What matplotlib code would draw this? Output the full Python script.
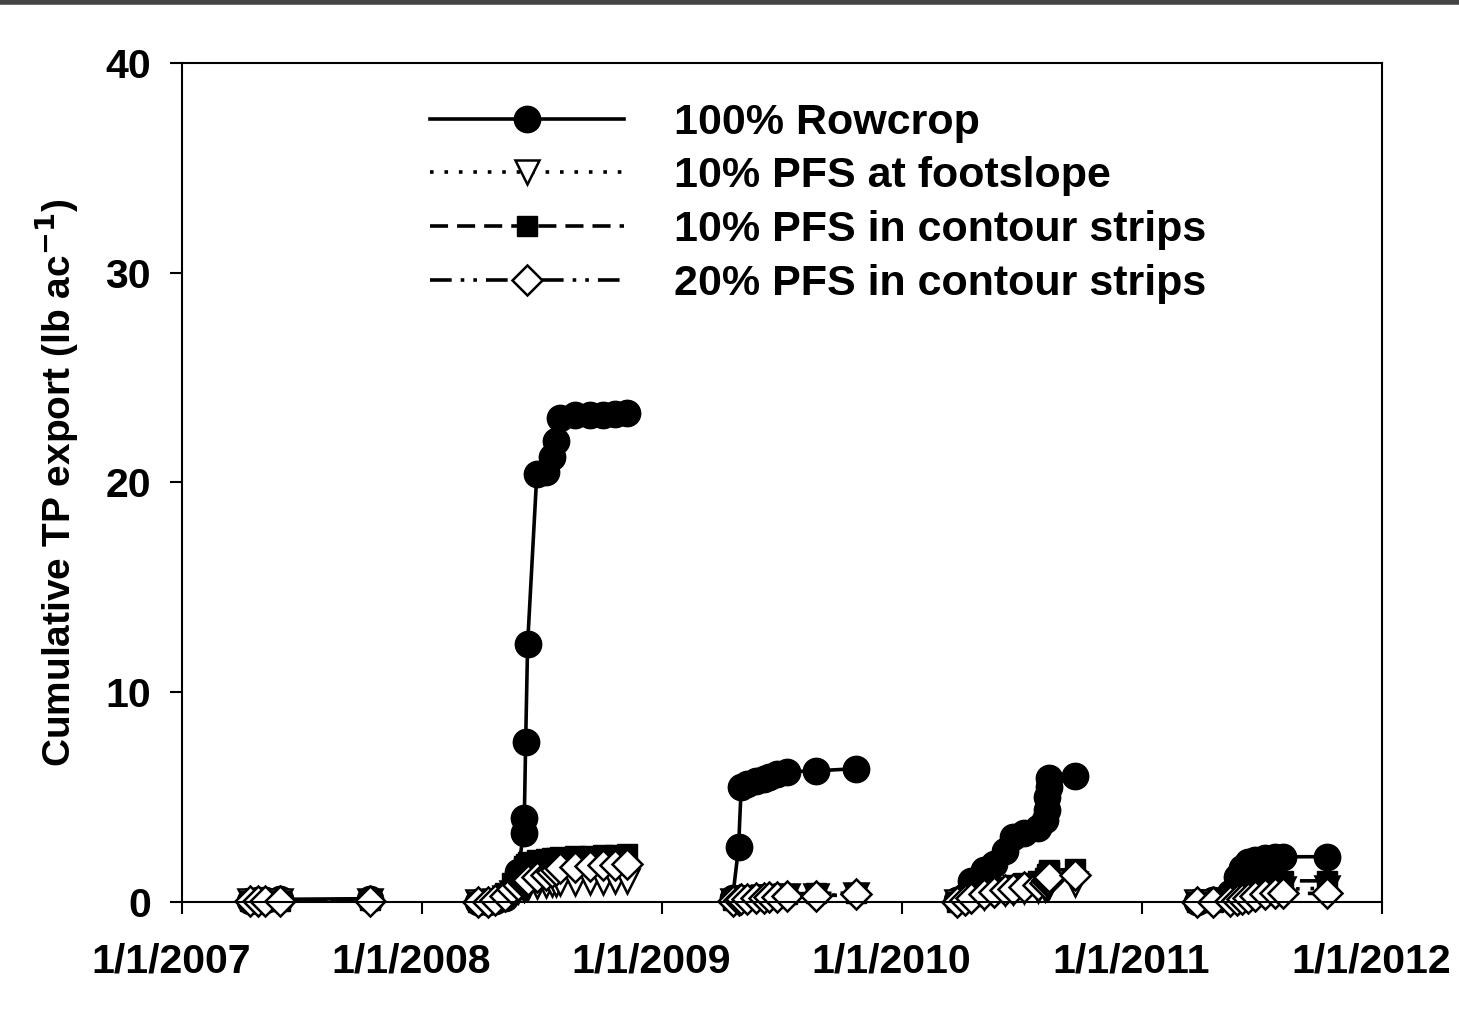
import matplotlib
matplotlib.use("Agg")
import matplotlib.pyplot as plt
import matplotlib.transforms as mtrans
from matplotlib.lines import Line2D
import numpy as np
import pandas as pd

plt.rcParams['font.family'] = ['Liberation Sans', 'DejaVu Sans']
plt.rcParams['font.weight'] = 'bold'

# event dates (runoff events), one season per year
dates = [
    "2007-04-14", "2007-04-26", "2007-05-08", "2007-05-30", "2007-10-14",
    "2008-03-26", "2008-04-10", "2008-04-22", "2008-05-06", "2008-05-17",
    "2008-05-26", "2008-06-04", "2008-06-05", "2008-06-07", "2008-06-10",
    "2008-06-24", "2008-07-08", "2008-07-17", "2008-07-23", "2008-07-29",
    "2008-08-21", "2008-09-13", "2008-10-03", "2008-10-21", "2008-11-08",
    "2009-04-18", "2009-04-27", "2009-05-01", "2009-05-10", "2009-05-23",
    "2009-06-04", "2009-06-13", "2009-06-25", "2009-07-09", "2009-08-23",
    "2009-10-23",
    "2010-03-26", "2010-04-06", "2010-04-16", "2010-05-06", "2010-05-21",
    "2010-06-06", "2010-06-18", "2010-07-06", "2010-07-26", "2010-08-06",
    "2010-08-09", "2010-08-10", "2010-08-12", "2010-08-13", "2010-09-21",
    "2011-03-25", "2011-04-19", "2011-05-15", "2011-05-25", "2011-06-02",
    "2011-06-11", "2011-06-22", "2011-07-07", "2011-07-22", "2011-08-03",
    "2011-10-09",
]

rowcrop = [
    0.05, 0.08, 0.10, 0.12, 0.15,
    0.0, 0.0, 0.05, 0.2, 0.6, 1.4, 3.3, 4.0, 7.6, 12.3,
    20.4, 20.5, 21.2, 22.0, 23.1, 23.2, 23.2, 23.2, 23.25, 23.3,
    0.2, 2.6, 5.5, 5.6, 5.75, 5.85, 5.95, 6.1, 6.2, 6.25, 6.35,
    0.1, 0.3, 1.0, 1.5, 1.8, 2.4, 3.1, 3.3, 3.5, 3.9, 4.4, 5.0, 5.5, 5.9, 6.0,
    0.0, 0.1, 0.4, 1.2, 1.6, 1.9, 2.0, 2.1, 2.15, 2.15, 2.15,
]

pfs_footslope = [
    0.02, 0.03, 0.04, 0.05, 0.06,
    0.0, 0.0, 0.05, 0.2, 0.4, 0.5, 0.6, 0.6, 0.65, 0.7,
    0.75, 0.8, 0.85, 0.85, 0.9, 0.9, 0.95, 0.95, 1.0, 1.0,
    0.05, 0.1, 0.15, 0.18, 0.2, 0.22, 0.24, 0.25, 0.27, 0.3, 0.32,
    0.0, 0.05, 0.15, 0.25, 0.35, 0.4, 0.45, 0.5, 0.55, 0.6, 0.65, 0.7, 0.75, 0.8, 0.85,
    0.0, 0.0, 0.05, 0.15, 0.25, 0.35, 0.45, 0.55, 0.6, 0.6, 0.65,
]

pfs10_contour = [
    0.03, 0.04, 0.05, 0.06, 0.08,
    0.0, 0.0, 0.1, 0.4, 0.9, 1.3, 1.6, 1.7, 1.8, 1.9,
    2.0, 2.05, 2.1, 2.1, 2.15, 2.2, 2.2, 2.25, 2.25, 2.3,
    0.1, 0.15, 0.2, 0.25, 0.28, 0.3, 0.32, 0.35, 0.38, 0.4, 0.42,
    0.0, 0.15, 0.3, 0.45, 0.6, 0.7, 0.8, 0.9, 1.0, 1.15, 1.25, 1.35, 1.4, 1.5, 1.55,
    0.0, 0.0, 0.1, 0.3, 0.5, 0.7, 0.85, 0.95, 1.0, 1.0, 1.0,
]

pfs20_contour = [
    0.02, 0.03, 0.04, 0.05, 0.06,
    0.0, 0.0, 0.1, 0.3, 0.6, 0.8, 0.9, 0.95, 1.0, 1.05,
    1.2, 1.3, 1.4, 1.5, 1.6, 1.65, 1.7, 1.75, 1.75, 1.8,
    0.05, 0.1, 0.12, 0.15, 0.18, 0.2, 0.22, 0.25, 0.28, 0.3, 0.35,
    0.0, 0.1, 0.2, 0.35, 0.45, 0.55, 0.6, 0.7, 0.8, 0.9, 1.0, 1.05, 1.1, 1.2, 1.3,
    0.0, 0.0, 0.05, 0.1, 0.15, 0.2, 0.3, 0.35, 0.4, 0.4, 0.4,
]

labels = ["100% Rowcrop", "10% PFS at footslope",
          "10% PFS in contour strips", "20% PFS in contour strips"]
year_ticks = ["2007-01-01", "2008-01-01", "2009-01-01", "2010-01-01",
              "2011-01-01", "2012-01-01"]

d = pd.to_datetime(dates)
years = d.year.values

styles = [
    dict(marker='o', ms=19, mfc='black', mec='black', ls='-', lw=2.6),
    dict(marker='v', ms=17, mfc='white', mec='black', mew=1.8, ls=(0, (1, 3)), lw=2.6),
    dict(marker='s', ms=15, mfc='black', mec='black', ls=(0, (5, 2.5)), lw=2.6),
    dict(marker='D', ms=15, mfc='white', mec='black', mew=1.8,
         ls=(0, (6, 2.5, 1, 2.5, 1, 2.5)), lw=2.6),
]
series = [rowcrop, pfs_footslope, pfs10_contour, pfs20_contour]

fig = plt.figure(figsize=(14.59, 10.19), dpi=100)
ax = fig.add_axes([0.1247, 0.115, 0.8225, 0.823])

for vals, st, lab in zip(series, styles, labels):
    vals = np.array(vals)
    for y in np.unique(years):
        m = years == y
        ax.plot(d[m], vals[m], color='black', clip_on=False, **st)

handles = [Line2D([0], [0], color='black', **st) for st in styles]
leg = ax.legend(handles, labels, loc='upper left', bbox_to_anchor=(0.207, 0.953),
                frameon=False, fontsize=31, handlelength=4.5, handletextpad=1.15,
                labelspacing=0.32, borderaxespad=0, borderpad=0)

ax.set_xlim(pd.Timestamp("2007-01-01"), pd.Timestamp("2012-01-01"))
ax.set_ylim(0, 40)
ax.set_yticks([0, 10, 20, 30, 40])
ticks = pd.to_datetime(year_ticks)
ax.set_xticks(ticks)
ax.set_xticklabels([f"{t.month}/{t.day}/{t.year}" for t in ticks])
ax.tick_params(direction='out', length=8.5, width=1.5, labelsize=29.5)
ax.tick_params(axis='x', pad=21)
ax.tick_params(axis='y', pad=14)
shift = mtrans.ScaledTranslation(-11 / 100, 0, fig.dpi_scale_trans)
for lab in ax.get_xticklabels():
    lab.set_transform(lab.get_transform() + shift)
for lab in ax.get_xticklabels() + ax.get_yticklabels():
    lab.set_fontweight('bold')
for sp in ax.spines.values():
    sp.set_linewidth(1.5)

ax.set_ylabel("Cumulative TP export (lb ac$^{\\mathbf{-1}}$)", fontsize=28,
              fontweight='bold', labelpad=18)

fig.add_artist(Line2D([0, 1], [0.998, 0.998], transform=fig.transFigure,
                      color='#444444', lw=4))

fig.savefig("out.png", dpi=100)
